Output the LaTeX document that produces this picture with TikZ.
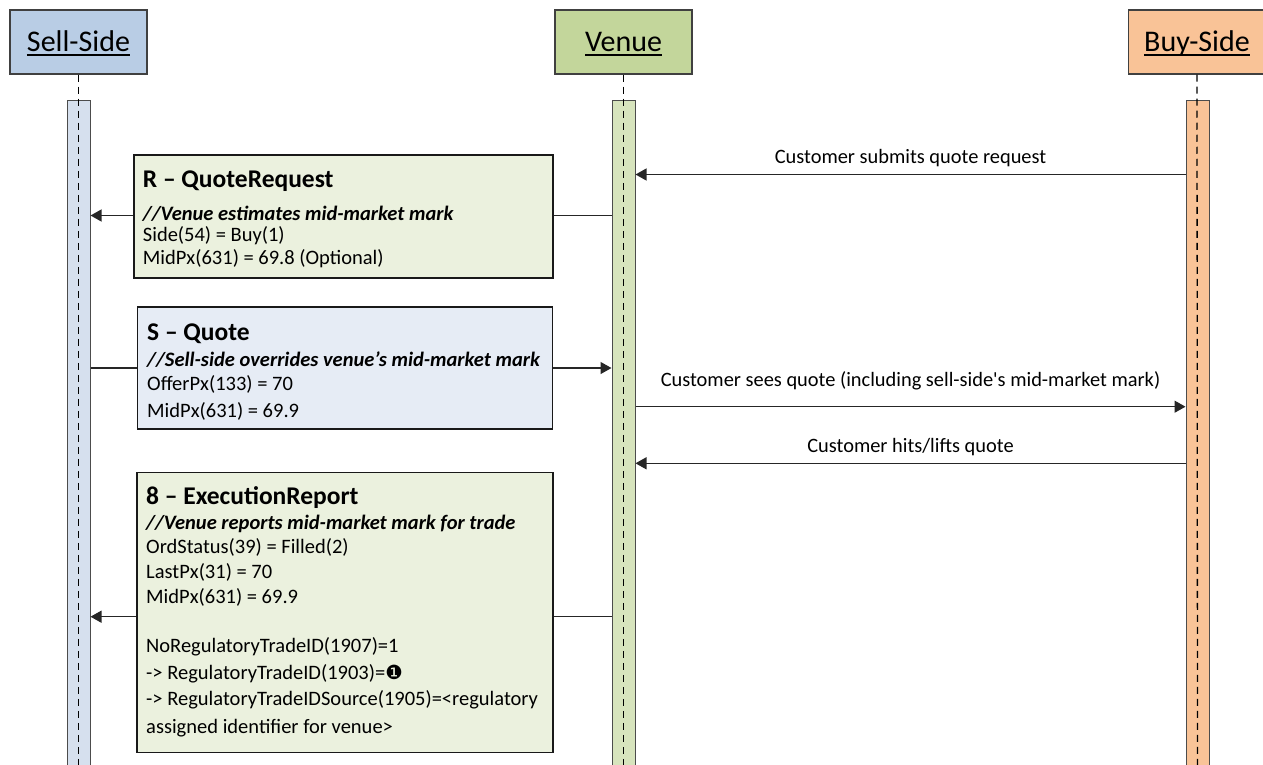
\documentclass[tikz,border=0pt]{standalone}
\usepackage{fontspec}
\setmainfont{Carlito}[Ligatures=TeXOff]
\newfontfamily\dejavu{DejaVu Sans}
\usetikzlibrary{arrows.meta}
\definecolor{sellhdr}{HTML}{B9CDE5}
\definecolor{sellbar}{HTML}{D6E0EE}
\definecolor{venhdr}{HTML}{C3D69B}
\definecolor{venbar}{HTML}{D7E4BD}
\definecolor{buyhdr}{HTML}{F9C397}
\definecolor{buybar}{HTML}{F9C397}
\definecolor{greenbox}{HTML}{EBF1DE}
\definecolor{bluebox}{HTML}{E6ECF5}
\newcommand\hdrul[1]{\setbox0\hbox{#1}\rlap{\rule[-4pt]{\wd0}{1.8pt}}\box0}
\begin{document}
\begin{tikzpicture}[x=1pt,y=-1pt,
  hdr/.style={draw=black!75, line width=1.5pt, minimum width=137pt, minimum height=64pt,
    inner sep=0pt, text height=24pt, text depth=4.6pt, font=\fontsize{30}{36}\selectfont},
  actbar/.style={draw=black!70, line width=1pt, minimum width=23pt, minimum height=670pt,
    anchor=north, inner sep=0pt},
  lifeline/.style={draw=black, line width=1.3pt, dash pattern=on 7pt off 5pt},
  msgbox/.style={draw=black!90, line width=1.5pt, anchor=north west, inner sep=0pt},
  ln/.style={anchor=base west, inner sep=0pt, font=\fontsize{20.5}{24}\selectfont},
  ttl/.style={anchor=base west, inner sep=0pt, font=\bfseries\fontsize{25.5}{30}\selectfont},
  cmt/.style={anchor=base west, inner sep=0pt, font=\bfseries\itshape\fontsize{20.5}{24}\selectfont},
  lbl/.style={anchor=base, inner sep=0pt, font=\fontsize{20.4}{24}\selectfont},
  msg/.style={draw=black!85, line width=1.3pt},
  arr/.style={msg, -{Triangle[length=11pt,width=12pt]}},
]
\useasboundingbox (0,0) rectangle (1263,765);

% headers
\node[hdr, fill=sellhdr] (sell) at (78.5,42) {\hdrul{Sell-Side}};
\node[hdr, fill=venhdr] (venue) at (623.5,42) {\hdrul{Venue}};
\node[hdr, fill=buyhdr] (buy) at (1197,42) {\hdrul{Buy-Side}};

% activation bars
\node[actbar, fill=sellbar] (sbar) at (78.5,100) {};
\node[actbar, fill=venbar] (vbar) at (623.5,100) {};
\node[actbar, fill=buybar] (bbar) at (1197.5,100) {};

% lifelines
\coordinate (send) at (78.5,770);
\coordinate (vend) at (623.5,770);
\coordinate (bend) at (1197.5,770);
\draw[lifeline] (sell.south) -- (send);
\draw[lifeline] (venue.south) -- (vend);
\draw[lifeline] (buy.south) -- (bend);

% message y levels
\coordinate (m1) at (0,174.5);
\coordinate (m2) at (0,215.5);
\coordinate (m3) at (0,368);
\coordinate (m4) at (0,406.7);
\coordinate (m5) at (0,463.3);
\coordinate (m6) at (0,616.7);

% Customer submits quote request
\draw[arr] (bbar.west |- m1) -- (vbar.east |- m1);
\node[lbl] (l1) at (910.5,163) {Customer submits quote request};

% R box
\node[msgbox, fill=greenbox, minimum width=419pt, minimum height=123pt] (R) at (133,154) {};
\draw[msg] (vbar.west |- m2) -- (R.east |- m2);
\draw[arr] (R.west |- m2) -- (sbar.east |- m2);
\node[ttl] (r1) at (142.7,187) {R – QuoteRequest};
\node[cmt] (r2) at (142.7,220) {//Venue estimates mid-market mark};
\node[ln] (r3) at (142.7,241.5) {Side(54) = Buy(1)};
\node[ln] (r4) at (142.7,264) {MidPx(631) = 69.8 (Optional)};

% S box
\node[msgbox, fill=bluebox, minimum width=415pt, minimum height=122pt] (S) at (136.7,306) {};
\draw[msg] (sbar.east |- m3) -- (S.west |- m3);
\draw[arr] (S.east |- m3) -- (vbar.west |- m3);
\node[ttl] (s1) at (147,340) {S – Quote};
\node[cmt] (s2) at (147,366) {//Sell-side overrides venue’s mid-market mark};
\node[ln] (s3) at (147,390) {OfferPx(133) = 70};
\node[ln] (s4) at (147,417) {MidPx(631) = 69.9};

% Customer sees quote
\draw[arr] (vbar.east |- m4) -- (bbar.west |- m4);
\node[lbl] (l2) at (910.5,386) {Customer sees quote (including sell-side's mid-market mark)};

% Customer hits/lifts quote
\draw[arr] (bbar.west |- m5) -- (vbar.east |- m5);
\node[lbl] (l3) at (910.5,452) {Customer hits/lifts quote};

% 8 box
\node[msgbox, fill=greenbox, minimum width=416pt, minimum height=280pt] (E) at (136,471.7) {};
\draw[msg] (vbar.west |- m6) -- (E.east |- m6);
\draw[arr] (E.west |- m6) -- (sbar.east |- m6);
\node[ttl] (e1) at (146,504) {8 – ExecutionReport};
\node[cmt] (e2) at (146,529) {//Venue reports mid-market mark for trade};
\node[ln] (e3) at (146,553) {OrdStatus(39) = Filled(2)};
\node[ln] (e4) at (146,578) {LastPx(31) = 70};
\node[ln] (e5) at (146,603) {MidPx(631) = 69.9};
\node[ln] (e6) at (146,652) {NoRegulatoryTradeID(1907)=1};
\node[ln] (e7) at (146,679) {-> RegulatoryTradeID(1903)={\dejavu\fontsize{19.5}{22}\selectfont ❶}};
\node[ln] (e8) at (146,705) {-> RegulatoryTradeIDSource(1905)=<regulatory};
\node[ln] (e9) at (146,733) {assigned identifier for venue>};
\end{tikzpicture}
\end{document}
